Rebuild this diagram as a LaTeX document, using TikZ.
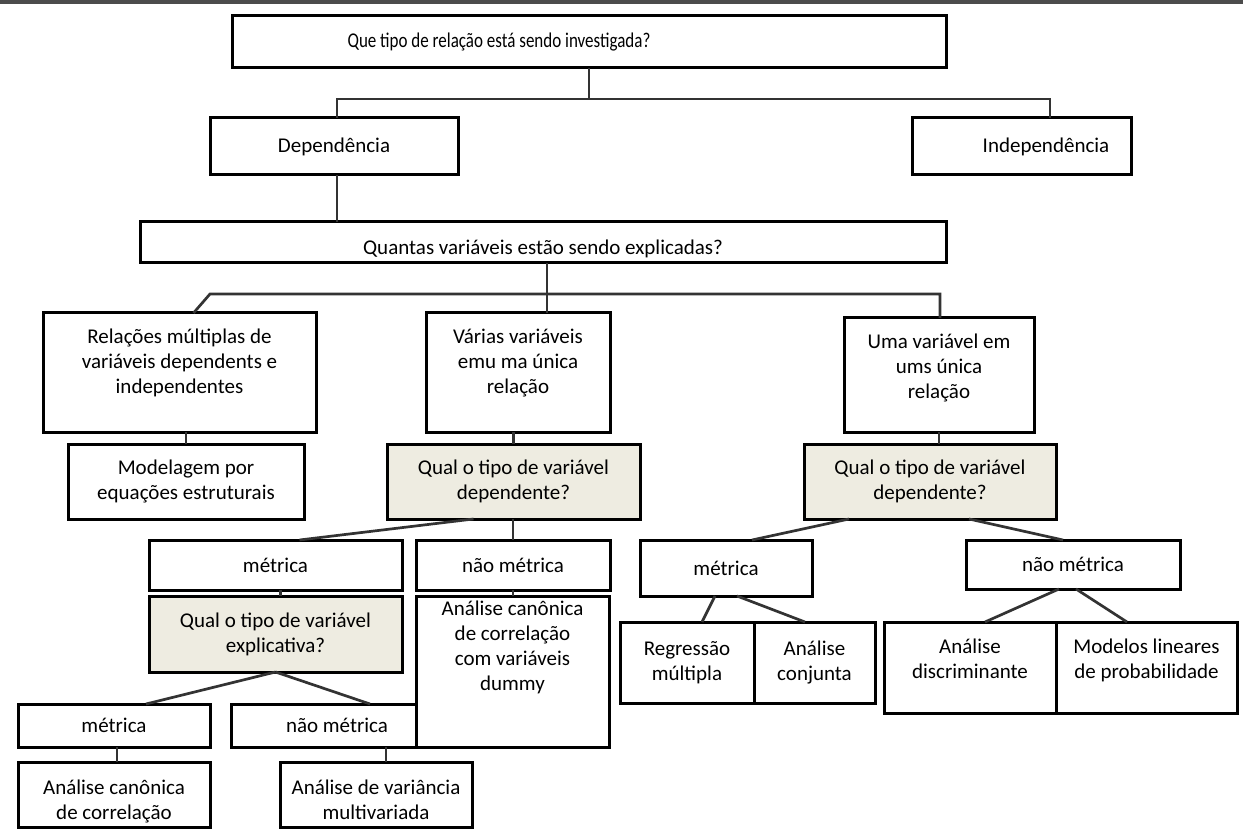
\documentclass[tikz,border=0pt]{standalone}
\usepackage{fontspec}
\setmainfont{Carlito}
\definecolor{qfill}{HTML}{EEECE1}
\newcommand{\lifted}[2]{\raisebox{#1}[\height][\depth]{\begin{tabular}{@{}c@{}}#2\end{tabular}}}

\begin{document}
\begin{tikzpicture}[x=1pt, y=-1pt, font=\fontsize{21}{25}\selectfont]
    \tikzstyle{box}=[rectangle,draw,line width=3pt,fill=white,align=center,inner sep=0pt,outer sep=0pt]
    \tikzstyle{qbox}=[box,fill=qfill]
    \tikzstyle{link}=[draw=black!80,line width=2.7pt]
    \useasboundingbox (0,0) rectangle (1243,834);
    \draw[line width=4.5pt,black!70] (0,2) -- (1243,2);
    \node[box,minimum width=714pt,minimum height=52pt] (q1) at (589,42) {\scalebox{0.81}[1]{Que tipo de relação está sendo investigada?}\hspace*{180pt}};
    \node[box,minimum width=248pt,minimum height=57pt] (dep) at (334,146.5) {Dependência};
    \node[box,minimum width=219pt,minimum height=57pt] (indep) at (1021.5,146.5) {\hspace*{49pt}Independência};
    \node[box,minimum width=806pt,minimum height=41pt] (q2) at (543,242.5) {\lifted{-7pt}{Quantas variáveis estão sendo explicadas?}};
    \node[box,minimum width=273pt,minimum height=119pt] (mult) at (179.5,372.5) {\lifted{9pt}{Relações múltiplas de\\variáveis dependents e\\independentes}};
    \node[box,minimum width=184pt,minimum height=119pt] (varias) at (518,372.5) {\lifted{9pt}{Várias variáveis\\emu ma única\\relação}};
    \node[box,minimum width=190pt,minimum height=114pt] (uma) at (939,375) {\lifted{6pt}{Uma variável em\\ums única\\relação}};
    \node[box,minimum width=236pt,minimum height=75pt] (sem) at (186,481.5) {Modelagem por\\equações estruturais};
    \node[qbox,minimum width=253pt,minimum height=75pt] (qdep1) at (513.5,481.5) {Qual o tipo de variável\\dependente?};
    \node[qbox,minimum width=252pt,minimum height=75pt] (qdep2) at (930,481.5) {Qual o tipo de variável\\dependente?};
    \node[box,minimum width=253pt,minimum height=50pt] (met1) at (275.5,565) {métrica};
    \node[box,minimum width=194pt,minimum height=50pt] (nmet1) at (513,565) {não métrica};
    \node[qbox,minimum width=253pt,minimum height=76pt] (qexp) at (275.5,634) {Qual o tipo de variável\\explicativa?};
    \node[box,minimum width=212pt,minimum height=43pt] (nmet2) at (337,725.5) {não métrica};
    \node[box,minimum width=193pt,minimum height=151pt] (dummy) at (512.5,671.5) {\lifted{24pt}{Análise canônica\\de correlação\\com variáveis\\dummy}};
    \node[box,minimum width=192pt,minimum height=43pt] (met2) at (114,725.5) {métrica};
    \node[box,minimum width=192pt,minimum height=65pt] (can) at (114,794.5) {\lifted{-7pt}{Análise canônica\\de correlação}};
    \node[box,minimum width=192pt,minimum height=65pt] (manova) at (376,794.5) {\lifted{-7pt}{Análise de variância\\multivariada}};
    \node[box,minimum width=172pt,minimum height=56pt] (met3) at (726,568) {métrica};
    \node[box,minimum width=214pt,minimum height=49pt] (nmet3) at (1073,564.5) {não métrica};
    \node[box,minimum width=134pt,minimum height=81pt] (reg) at (687,662.5) {Regressão\\múltipla};
    \node[box,minimum width=121pt,minimum height=81pt] (conj) at (814.5,662.5) {Análise\\conjunta};
    \node[box,minimum width=172pt,minimum height=91pt] (disc) at (970,667.5) {\lifted{7pt}{Análise\\discriminante}};
    \node[box,minimum width=181pt,minimum height=91pt] (lin) at (1146.5,667.5) {\lifted{7pt}{Modelos lineares\\de probabilidade}};
    \coordinate (b1) at (337,99);
    \coordinate (b2) at (1050,99);
    \coordinate (b3) at (547,294);
    \coordinate (b4) at (210,294);
    \coordinate (b5) at (940,294);
    \draw[link] (q1.south) -- (q1.south |- b1);
    \draw[link] (dep.north -| b1) -- (b1) -- (b2) -- (indep.north -| b2);
    \draw[link] (dep.south -| b1) -- (q2.north -| b1);
    \draw[link] (q2.south -| b3) -- (varias.north -| b3);
    \draw[link] ([xshift=14pt]mult.north) -- (b4) -- (b5) -- (uma.north -| b5);
    \draw[link] (mult.south -| sem.north) -- (sem.north);
    \draw[link] (varias.south -| qdep1.north) -- (qdep1.north);
    \draw[link] (uma.south) -- (uma.south |- qdep2.north);
    \draw[link] ([xshift=-40pt]qdep1.south) -- ([xshift=24pt]met1.north);
    \draw[link] (qdep1.south -| nmet1.north) -- (nmet1.north);
    \draw[link] ([xshift=5pt]met1.south) -- ([xshift=5pt]qexp.north);
    \draw[link] (nmet1.south) -- (nmet1.south |- dummy.north);
    \draw[link] (qexp.south) -- ([xshift=32pt]met2.north);
    \draw[link] (qexp.south) -- ([xshift=33pt]nmet2.north);
    \draw[link] ([xshift=3pt]met2.south) -- ([xshift=3pt]can.north);
    \draw[link] ([xshift=49pt]nmet2.south) -- ([xshift=10pt]manova.north);
    \draw[link] ([xshift=-81pt]qdep2.south) -- ([xshift=26pt]met3.north);
    \draw[link] ([xshift=39pt]qdep2.south) -- ([xshift=-10pt]nmet3.north);
    \draw[link] ([xshift=-11pt]met3.south) -- ([xshift=15pt]reg.north);
    \draw[link] ([xshift=11pt]met3.south) -- ([xshift=-9.5pt]conj.north);
    \draw[link] ([xshift=-14pt]nmet3.south) -- ([xshift=15pt]disc.north);
    \draw[link] ([xshift=3pt]nmet3.south) -- ([xshift=-19.5pt]lin.north);
\end{tikzpicture}
\end{document}
